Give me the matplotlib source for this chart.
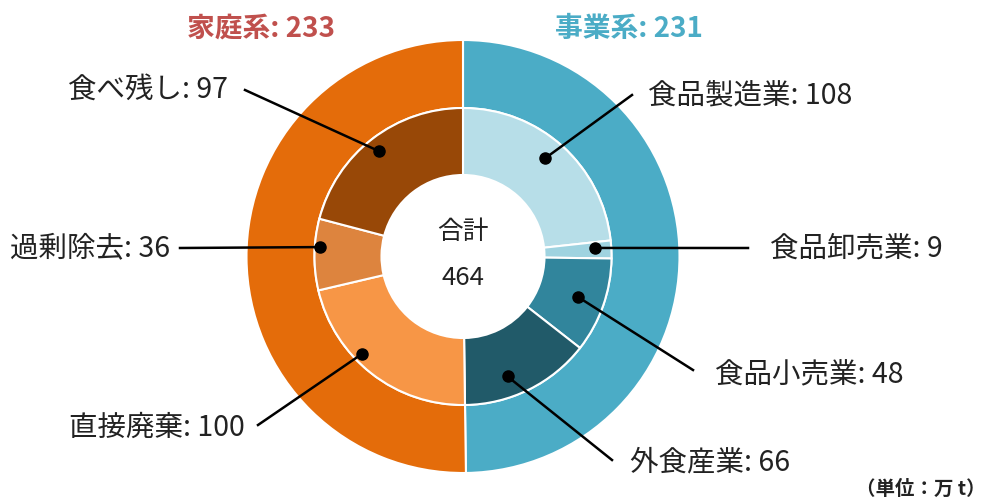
import numpy as np
import matplotlib
matplotlib.use('Agg')
import matplotlib.pyplot as plt

plt.rcParams['font.family'] = ['Noto Sans CJK JP', 'DejaVu Sans']

# data
groups = ['事業系', '家庭系']
group_values = [231, 233]
group_colors = ['#4BACC6', '#E46C0A']
title_colors = ['#4BACC6', '#C0504D']

items = ['食品製造業', '食品卸売業', '食品小売業', '外食産業', '直接廃棄', '過剰除去', '食べ残し']
item_values = [108, 9, 48, 66, 100, 36, 97]
item_colors = ['#B7DEE8', '#9FD3E0', '#31859C', '#215A69', '#F79646', '#DD843E', '#984807']

# label layout (pixel coords in the 992x500 image)
label_pos = [(648, 95), (770, 248), (715, 375), (630, 462), (245, 428), (170, 248), (228, 90)]
label_ha = ['left', 'left', 'left', 'left', 'right', 'right', 'right']
line_start = [(632, 95), (748, 248), (693, 370), (612, 460), (258, 425), (180, 248), (245, 90)]
dot_r = [128, 132, 122, 128, 140, 143, 135]     # px from centre
dot_da = [2, 1, 0, -6, -8, -3, 1]               # degrees off the wedge middle

W, H = 992, 500
cx, cy, R = 463, 256.5, 216.5


def px(x, y):
    return (x - cx) / R, (cy - y) / R


fig = plt.figure(figsize=(W / 100, H / 100), dpi=100)
ax = fig.add_axes([0, 0, 1, 1])

wp = dict(edgecolor='white', linewidth=1.5)
ax.pie(group_values, radius=1.0, colors=group_colors, startangle=90, counterclock=False,
       wedgeprops=dict(width=68 / R, **wp))
inner, _ = ax.pie(item_values, radius=148.5 / R, colors=item_colors, startangle=90,
                  counterclock=False, wedgeprops=dict(width=67 / R, **wp))

ax.set_xlim(-cx / R, (W - cx) / R)
ax.set_ylim(-(H - cy) / R, cy / R)
ax.axis('off')

# labels with leader lines to dots
for i, w in enumerate(inner):
    ang = np.deg2rad((w.theta1 + w.theta2) / 2 + dot_da[i])
    r = dot_r[i] / R
    dx, dy = r * np.cos(ang), r * np.sin(ang)
    sx, sy = px(*line_start[i])
    ax.plot([sx, dx], [sy, dy], color='black', lw=1.8)
    ax.plot(dx, dy, 'o', color='black', ms=8)
    tx, ty = px(*label_pos[i])
    ax.text(tx, ty, f'{items[i]}: {item_values[i]}', ha=label_ha[i], va='center',
            fontsize=20.5, color='#222222')

# group titles
for g, v, c, pos in zip(groups, group_values, title_colors, [(629, 29), (261, 29)]):
    tx, ty = px(*pos)
    ax.text(tx, ty, f'{g}: {v}', ha='center', va='center', fontsize=20, fontweight='bold', color=c)

# center total
tx, ty = px(463, 232)
ax.text(tx, ty, '合計', ha='center', va='center', fontsize=18.5, color='#222222')
tx, ty = px(463, 278)
ax.text(tx, ty, str(sum(group_values)), ha='center', va='center', fontsize=18.5, color='#222222')

tx, ty = px(986, 489)
ax.text(tx, ty, '（単位：万 t）', ha='right', va='center', fontsize=14, fontweight='bold', color='#222222')

fig.savefig('out.png', dpi=100)
